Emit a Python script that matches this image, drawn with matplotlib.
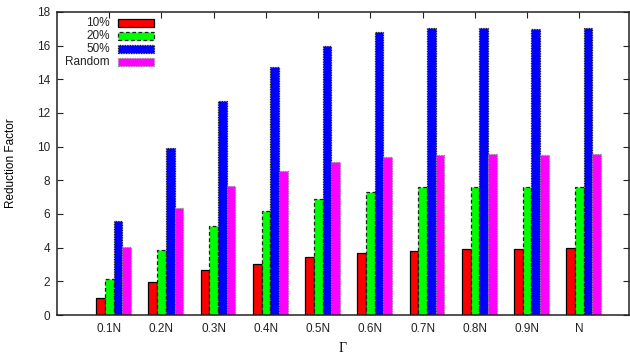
import matplotlib
matplotlib.use("Agg")
import matplotlib.pyplot as plt
import matplotlib.transforms as mtransforms
from matplotlib.patches import Rectangle
import numpy as np

plt.rcParams['font.family'] = ['Liberation Sans', 'DejaVu Sans']

categories = ["0.1N", "0.2N", "0.3N", "0.4N", "0.5N", "0.6N", "0.7N", "0.8N", "0.9N", "N"]
series_names = ["10%", "20%", "50%", "Random"]
vals_10 = [1.03, 1.98, 2.67, 3.03, 3.46, 3.67, 3.82, 3.94, 3.94, 3.98]
vals_20 = [2.14, 3.84, 5.29, 6.20, 6.89, 7.31, 7.60, 7.60, 7.60, 7.62]
vals_50 = [5.58, 9.94, 12.73, 14.72, 15.98, 16.82, 17.02, 17.05, 16.99, 17.02]
vals_rand = [4.02, 6.34, 7.66, 8.56, 9.09, 9.41, 9.50, 9.55, 9.50, 9.57]

colors = ["#ff0000", "#00ff00", "#0000ff", "#ff00ff"]
edge_styles = ["-", (0, (3, 2)), (0, (1, 1)), (0, (1, 1))]
edge_colors = ["black", "#222222", "#222222", "#888888"]

fig = plt.figure(figsize=(6.3, 3.54), dpi=100)
ax = fig.add_axes([57 / 630, 39 / 354, 572 / 630, 303 / 354])

x = np.arange(1, len(categories) + 1)
w = 1 / 6
shift = 1 / 12  # gnuplot puts the cluster a bit right of the tic
all_vals = [vals_10, vals_20, vals_50, vals_rand]
for i, vals in enumerate(all_vals):
    ax.bar(x + shift + (i - 1.5) * w, vals, width=w, color=colors[i],
           edgecolor=edge_colors[i], linewidth=0.9, linestyle=edge_styles[i],
           zorder=2)

ax.set_xlim(0, 10.95)
ax.set_ylim(0, 18)
ax.set_xticks(x)
ax.set_xticklabels(categories)
ax.set_yticks(np.arange(0, 19, 2))

# labels sit under the clusters, not the tics
offset = mtransforms.ScaledTranslation(4 / 100, 0, fig.dpi_scale_trans)
for lab in ax.get_xticklabels():
    lab.set_transform(lab.get_transform() + offset)

ax.tick_params(direction="in", top=True, right=True, length=4.5, width=0.8,
               labelsize=8.5, colors="#222222", pad=6)
ax.tick_params(axis="y", pad=5)
for s in ax.spines.values():
    s.set_linewidth(1.1)
    s.set_color("#222222")

ax.set_ylabel("Reduction Factor", fontsize=8.5, labelpad=14)
ax.set_xlabel("Γ", fontsize=10, family=["Liberation Serif", "DejaVu Serif"], labelpad=5)

# key in the top left corner, text right of the sample boxes like gnuplot
row_y = [0.964, 0.921, 0.878, 0.835]
for i, name in enumerate(series_names):
    ax.text(0.0927, row_y[i], name, transform=ax.transAxes, ha="right",
            va="center", fontsize=8.5, color="#222222")
    ax.add_patch(Rectangle((0.1066, row_y[i] - 0.012), 0.063, 0.024,
                           transform=ax.transAxes, facecolor=colors[i],
                           edgecolor=edge_colors[i], linewidth=0.9,
                           linestyle=edge_styles[i], zorder=3))

fig.savefig("out.png", dpi=100)
